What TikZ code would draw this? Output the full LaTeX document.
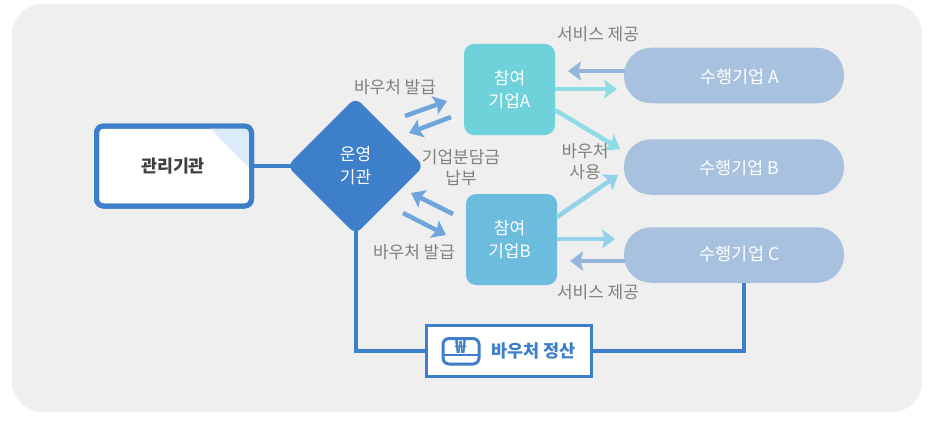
\documentclass[tikz,border=0pt]{standalone}
\usepackage{fontspec}
\setmainfont{Noto Sans CJK KR}
\usetikzlibrary{arrows.meta,shapes.geometric}
\pgfdeclarelayer{behind}
\pgfdeclarelayer{bgrect}
\pgfsetlayers{bgrect,behind,main}
\definecolor{bgc}{HTML}{EFEFEF}
\definecolor{mainb}{HTML}{3E7FC9}
\definecolor{foldc}{HTML}{DCEBFB}
\definecolor{tealc}{HTML}{6FD1D9}
\definecolor{skyc}{HTML}{6CBCDE}
\definecolor{pillc}{HTML}{A7C1DE}
\definecolor{voucherar}{HTML}{6FA5DC}
\definecolor{servar}{HTML}{94B5DB}
\definecolor{usear}{HTML}{8FDCE3}
\definecolor{usebr}{HTML}{93D2E8}
\definecolor{lab}{HTML}{808080}
\tikzset{
  x=1pt,y=-1pt,
  conn/.style={draw=mainb,line width=4pt},
  thinar/.style={line width=4.5pt,-{Stealth[length=13pt,width=19pt,inset=2.5pt]}},
  lbl/.style={text=lab,font=\fontsize{17}{21}\selectfont,align=center,inner sep=0pt},
  pill/.style={fill=pillc,rounded corners=27pt,minimum width=220pt,minimum height=55.5pt,inner sep=0pt},
  pilltxt/.style={text=white,font=\fontsize{17.5}{21}\selectfont,inner sep=0pt},
  partner/.style={rounded corners=10pt,minimum width=91pt,minimum height=91pt,inner sep=0pt,text=white,align=center,font=\fontsize{17}{23}\selectfont},
}
\begin{document}
\begin{tikzpicture}
\useasboundingbox (0,0) rectangle (936,420);
\begin{pgfonlayer}{bgrect}
\fill[bgc,rounded corners=30pt] (12,4) rectangle (922,412);
\end{pgfonlayer}
% nodes
\node[draw=mainb,line width=5pt,fill=white,rounded corners=7pt,minimum width=155pt,minimum height=80pt,inner sep=0pt] (admin) at (174,166) {};
\fill[foldc] (210,128) -- (249,128) -- (249,168) -- cycle;
\draw[mainb,line width=5pt,rounded corners=7pt] (96.5,126) rectangle (251.5,206);
\node[font=\fontsize{17.3}{20}\selectfont\bfseries,text=black!75,inner sep=0pt] at (173,166) {관리기관};
\node[draw=none,fill=mainb,diamond,aspect=1,rounded corners=8pt,minimum width=137pt,minimum height=137pt,inner sep=0pt,text=white,align=center,font=\fontsize{17}{23}\selectfont] (op) at (355.5,166) {운영\\기관};
\node[fill=tealc,partner] (pa) at (509.5,89.5) {참여\\기업A};
\node[fill=skyc,partner,text=skyc] (pb) at (511.5,239.5) {};
\node[text=white,align=center,inner sep=0pt,font=\fontsize{17}{23}\selectfont] at (509.5,239.5) {참여\\기업B};
\node[pill] (ca) at (734,75.5) {};
\node[pill] (cb) at (734,167) {};
\node[pill] (cc) at (734,255) {};
\node[pilltxt] at (739.5,76.5) {수행기업 A};
\node[pilltxt] at (739.5,167.5) {수행기업 B};
\node[pilltxt] at (739.5,253.5) {수행기업 C};
\node[draw=mainb,line width=3pt,fill=white,minimum width=165pt,minimum height=51pt,inner sep=0pt] (settle) at (508.5,351) {};
\node[text=mainb,font=\fontsize{17.5}{21}\selectfont\bfseries,inner sep=0pt] (settlet) at (533.5,351) {바우처 정산};
% won icon
\draw[mainb,line width=3pt,rounded corners=6pt] (443,338.5) rectangle (479,364);
\draw[mainb,line width=2pt] (444,355) -- (478,355);
\node[text=mainb,font=\fontsize{18}{18}\selectfont\bfseries,inner sep=0pt] (won) at (461,346.5) {₩};
% connectors
\coordinate (c1) at (355.5,351);
\coordinate (c2) at (744,351);
\begin{pgfonlayer}{behind}
\draw[conn] (admin.east) -- (op.center);
\draw[conn] (op.center) -- (c1) -- (settle.west);
\draw[conn] (settle.east) -- (c2) -- (cc.south -| c2);
\end{pgfonlayer}
% voucher arrows
\coordinate (v1s) at (405,116); \coordinate (v1e) at (447,101);
\coordinate (v2s) at (451,117); \coordinate (v2e) at (409,133);
\coordinate (v3s) at (453,214); \coordinate (v3e) at (411,193);
\coordinate (v4s) at (403,213); \coordinate (v4e) at (446,235);
\draw[thinar,voucherar] (v1s) -- (v1e);
\draw[thinar,voucherar] (v2s) -- (v2e);
\draw[thinar,voucherar] (v3s) -- (v3e);
\draw[thinar,voucherar] (v4s) -- (v4e);
% service / use arrows
\coordinate (s1) at (568,71); \coordinate (s2) at (617,89);
\coordinate (s3) at (620,149); \coordinate (s4) at (618,175);
\coordinate (s5) at (615,239); \coordinate (s6) at (570,261);
\draw[thinar,servar] (625,71) -- (s1);
\draw[thinar,usear] (555,89) -- (s2);
\draw[thinar,usear] (555,110) -- (s3);
\draw[thinar,usebr] (557,217) -- (s4);
\draw[thinar,usebr] (557,239) -- (s5);
\draw[thinar,servar] (625,261) -- (s6);
% labels
\node[lbl] at (598,34.5) {서비스 제공};
\node[lbl] at (395,87.5) {바우처 발급};
\node[lbl] at (461,167.5) {기업분담금\\납부};
\node[lbl] at (585,162) {바우처\\사용};
\node[lbl] at (414,252.5) {바우처 발급};
\node[lbl] at (598,292.5) {서비스 제공};
\end{tikzpicture}
\end{document}
